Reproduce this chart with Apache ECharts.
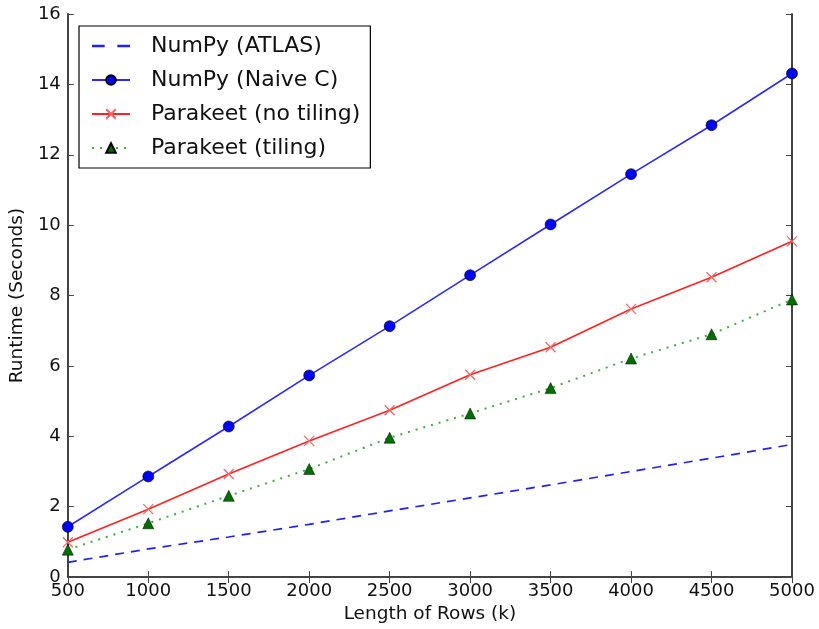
<!DOCTYPE html>
<html>
<head>
<meta charset="utf-8">
<title>Runtime vs Length of Rows</title>
<script src="https://cdn.jsdelivr.net/npm/echarts@6/dist/echarts.min.js"></script>
<style>
  html, body { margin: 0; padding: 0; background: #fff; }
  #chart { width: 819px; height: 629px; }
</style>
</head>
<body>
<div id="chart"></div>
<script type="text/javascript">
    // data
    var rows = [500, 1000, 1500, 2000, 2500, 3000, 3500, 4000, 4500, 5000];
    var atlas = [0.42, 0.80, 1.14, 1.50, 1.88, 2.25, 2.62, 3.00, 3.38, 3.77];
    var naiveC = [1.43, 2.86, 4.28, 5.73, 7.13, 8.58, 10.02, 11.45, 12.84, 14.31];
    var noTiling = [0.99, 1.93, 2.93, 3.87, 4.74, 5.75, 6.53, 7.62, 8.52, 9.54];
    var tiling = [0.78, 1.53, 2.31, 3.07, 3.96, 4.65, 5.37, 6.21, 6.90, 7.89];

    function pairs(ys) {
      return rows.map(function (x, i) { return [x, ys[i]]; });
    }
    function plain(v) { return String(v); }

    var font = 'DejaVu Sans';
    var axisColor = '#444';
    var chart = echarts.init(document.getElementById('chart'));

    var option = {
      animation: false,
      backgroundColor: '#fff',
      grid: { left: 67, right: 27, top: 14, bottom: 51, show: false },
      legend: {
        orient: 'vertical',
        left: 79,
        top: 26,
        width: 300,
        padding: [8, 10, 8, 12],
        itemGap: 10,
        itemWidth: 38,
        itemHeight: 12,
        borderColor: '#000',
        borderWidth: 1.2,
        backgroundColor: '#fff',
        textStyle: { fontFamily: font, fontSize: 22, color: '#111', padding: [0, 0, 0, 16], lineHeight: 24 },
        data: [
          // matplotlib shows a bare dashed line for this one
          { name: 'NumPy (ATLAS)', icon: 'path://M0,5 L11,5 L11,7 L0,7 Z M22,5 L33,5 L33,7 L22,7 Z' },
          'NumPy (Naive C)', 'Parakeet (no tiling)', 'Parakeet (tiling)'
        ]
      },
      xAxis: [{
        type: 'value',
        min: 500, max: 5000, interval: 500,
        name: 'Length of Rows (k)',
        nameLocation: 'middle',
        nameGap: 27,
        nameTextStyle: { fontFamily: font, fontSize: 18.5, color: '#111' },
        axisLine: { lineStyle: { color: axisColor, width: 2 } },
        axisTick: { inside: true, length: 6, lineStyle: { color: axisColor } },
        axisLabel: { fontFamily: font, fontSize: 18, color: '#111', margin: 5, formatter: plain },
        splitLine: { show: false }
      }, {
        type: 'value', position: 'top',
        min: 500, max: 5000, interval: 500,
        axisLine: { show: true, lineStyle: { color: axisColor, width: 2 } },
        axisTick: { inside: true, length: 6, lineStyle: { color: axisColor } },
        axisLabel: { show: false },
        splitLine: { show: false }
      }],
      yAxis: [{
        type: 'value',
        min: 0, max: 16, interval: 2,
        name: 'Runtime (Seconds)',
        nameLocation: 'middle',
        nameGap: 35,
        nameTextStyle: { fontFamily: font, fontSize: 18.5, color: '#111' },
        axisLine: { show: true, lineStyle: { color: axisColor, width: 2 } },
        axisTick: { show: true, inside: true, length: 6, lineStyle: { color: axisColor } },
        axisLabel: { fontFamily: font, fontSize: 18, color: '#111', margin: 7, formatter: plain },
        splitLine: { show: false }
      }, {
        type: 'value', position: 'right',
        min: 0, max: 16, interval: 2,
        axisLine: { show: true, lineStyle: { color: axisColor, width: 2 } },
        axisTick: { show: true, inside: true, length: 6, lineStyle: { color: axisColor } },
        axisLabel: { show: false },
        splitLine: { show: false }
      }],
      series: [{
        name: 'NumPy (ATLAS)',
        type: 'line',
        data: pairs(atlas),
        showSymbol: false,
        symbol: 'none',
        color: '#0000ff',
        itemStyle: { color: '#2020ff' },
        lineStyle: { color: '#2020ff', width: 1.7, type: [9, 7] }
      }, {
        name: 'NumPy (Naive C)',
        type: 'line',
        data: pairs(naiveC),
        symbol: 'circle',
        symbolSize: 11,
        color: '#0000ff',
        itemStyle: { color: '#0000ff', borderColor: '#000', borderWidth: 0.6 },
        lineStyle: { color: '#2a2aff', width: 1.6 }
      }, {
        name: 'Parakeet (no tiling)',
        type: 'line',
        data: pairs(noTiling),
        symbol: 'path://M0,0 L10,10 M10,0 L0,10',
        symbolSize: 10,
        color: '#ff0000',
        itemStyle: { color: 'none', borderColor: '#ff6060', borderWidth: 1.2 },
        lineStyle: { color: '#ff2020', width: 1.6 }
      }, {
        name: 'Parakeet (tiling)',
        type: 'line',
        data: pairs(tiling),
        symbol: 'triangle',
        symbolSize: 11,
        color: '#008000',
        itemStyle: { color: '#007000', borderColor: '#000', borderWidth: 0.5 },
        lineStyle: { color: '#44aa44', width: 2, type: [2, 6] }
      }]
    };

    chart.setOption(option);
</script>
</body>
</html>
